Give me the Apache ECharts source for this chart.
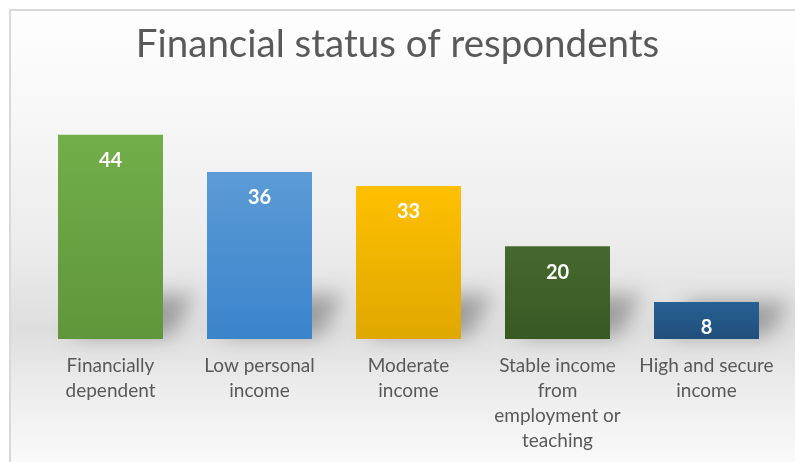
<!DOCTYPE html>
<html>
<head>
<meta charset="utf-8">
<script src="https://cdn.jsdelivr.net/npm/echarts@6/dist/echarts.min.js"></script>
<style>
  html, body { margin: 0; padding: 0; background: #ffffff; }
  #chart { width: 795px; height: 462px; }
</style>
</head>
<body>
<div id="chart"></div>
<script>
// Respondents grouped by financial status
const categories = [
  'Financially dependent',
  'Low personal income',
  'Moderate income',
  'Stable income from employment or teaching',
  'High and secure income'
];
const tickLabels = [
  'Financially\ndependent',
  'Low personal\nincome',
  'Moderate\nincome',
  'Stable income\nfrom\nemployment or\nteaching',
  'High and secure\nincome'
];
const counts = [44, 36, 33, 20, 8];

// top / bottom colours of each bar's vertical gradient
const barColors = [
  ['#72ae4a', '#5f963b'],
  ['#5c9bd6', '#3a84cb'],
  ['#ffc000', '#dfa800'],
  ['#46692e', '#385824'],
  ['#276093', '#1f4f7b']
];

const FONT = 'Lato';
const SHIFT = 3000; // draw the shadow caster off-canvas so only its blur shows

const chart = echarts.init(document.getElementById('chart'), null, { renderer: 'canvas' });

const barData = counts.map((v, i) => ({
  value: v,
  itemStyle: {
    color: new echarts.graphic.LinearGradient(0, 0, 0, 1, [
      { offset: 0, color: barColors[i][0] },
      { offset: 1, color: barColors[i][1] }
    ])
  }
}));

// soft perspective shadow behind the foot of each bar
function renderShadow(params, api) {
  const v = api.value(1);
  const base = api.coord([api.value(0), 0]);
  const top = api.coord([api.value(0), v]);
  const half = 50;
  const h = Math.min(44, base[1] - top[1]);
  const dx = 34;
  const x0 = base[0] - SHIFT;
  return {
    type: 'polygon',
    shape: {
      points: [
        [x0 - half + 10, base[1] - 3],
        [x0 + half + 10, base[1] - 3],
        [x0 + half + dx, base[1] - h],
        [x0 - half + dx, base[1] - h]
      ]
    },
    style: {
      fill: '#000',
      shadowBlur: 20,
      shadowOffsetX: SHIFT,
      shadowColor: 'rgba(0,0,0,0.3)'
    }
  };
}

chart.setOption({
  animation: false,
  textStyle: { fontFamily: FONT },
  graphic: [
    {
      type: 'rect',
      z: -10,
      shape: { x: 10, y: 10, width: 800, height: 470 },
      style: {
        fill: new echarts.graphic.LinearGradient(0, 0, 0, 1, [
          { offset: 0.0, color: '#fefefe' },
          { offset: 0.2, color: '#f8f8f8' },
          { offset: 0.5, color: '#ececec' },
          { offset: 0.68, color: '#dedede' },
          { offset: 0.8, color: '#ececec' },
          { offset: 1.0, color: '#fdfdfd' }
        ]),
        stroke: '#d9d9d9',
        lineWidth: 2
      }
    }
  ],
  title: {
    text: 'Financial status of respondents',
    left: 'center',
    top: 20,
    textStyle: {
      fontFamily: FONT,
      fontSize: 38.5,
      fontWeight: 'normal',
      color: '#595959'
    }
  },
  grid: { left: 36, right: 14, top: 107, bottom: 123, containLabel: false },
  xAxis: {
    type: 'category',
    data: categories,
    axisLine: { show: false },
    axisTick: { show: false },
    axisLabel: {
      interval: 0,
      margin: 15,
      color: '#595959',
      fontSize: 19,
      lineHeight: 24.7,
      fontFamily: FONT,
      formatter: (val, idx) => tickLabels[idx]
    }
  },
  yAxis: {
    type: 'value',
    min: 0,
    max: 50,
    show: false,
    splitLine: { show: false }
  },
  series: [
    {
      type: 'custom',
      z: 1,
      silent: true,
      clip: false,
      renderItem: renderShadow,
      data: counts.map((v, i) => [i, v])
    },
    {
      type: 'bar',
      z: 2,
      barWidth: 105,
      data: barData,
      label: {
        show: true,
        position: 'insideTop',
        distance: 16,
        color: '#ffffff',
        fontSize: 20,
        fontWeight: 'bold',
        fontFamily: FONT
      }
    }
  ]
});
</script>
</body>
</html>
